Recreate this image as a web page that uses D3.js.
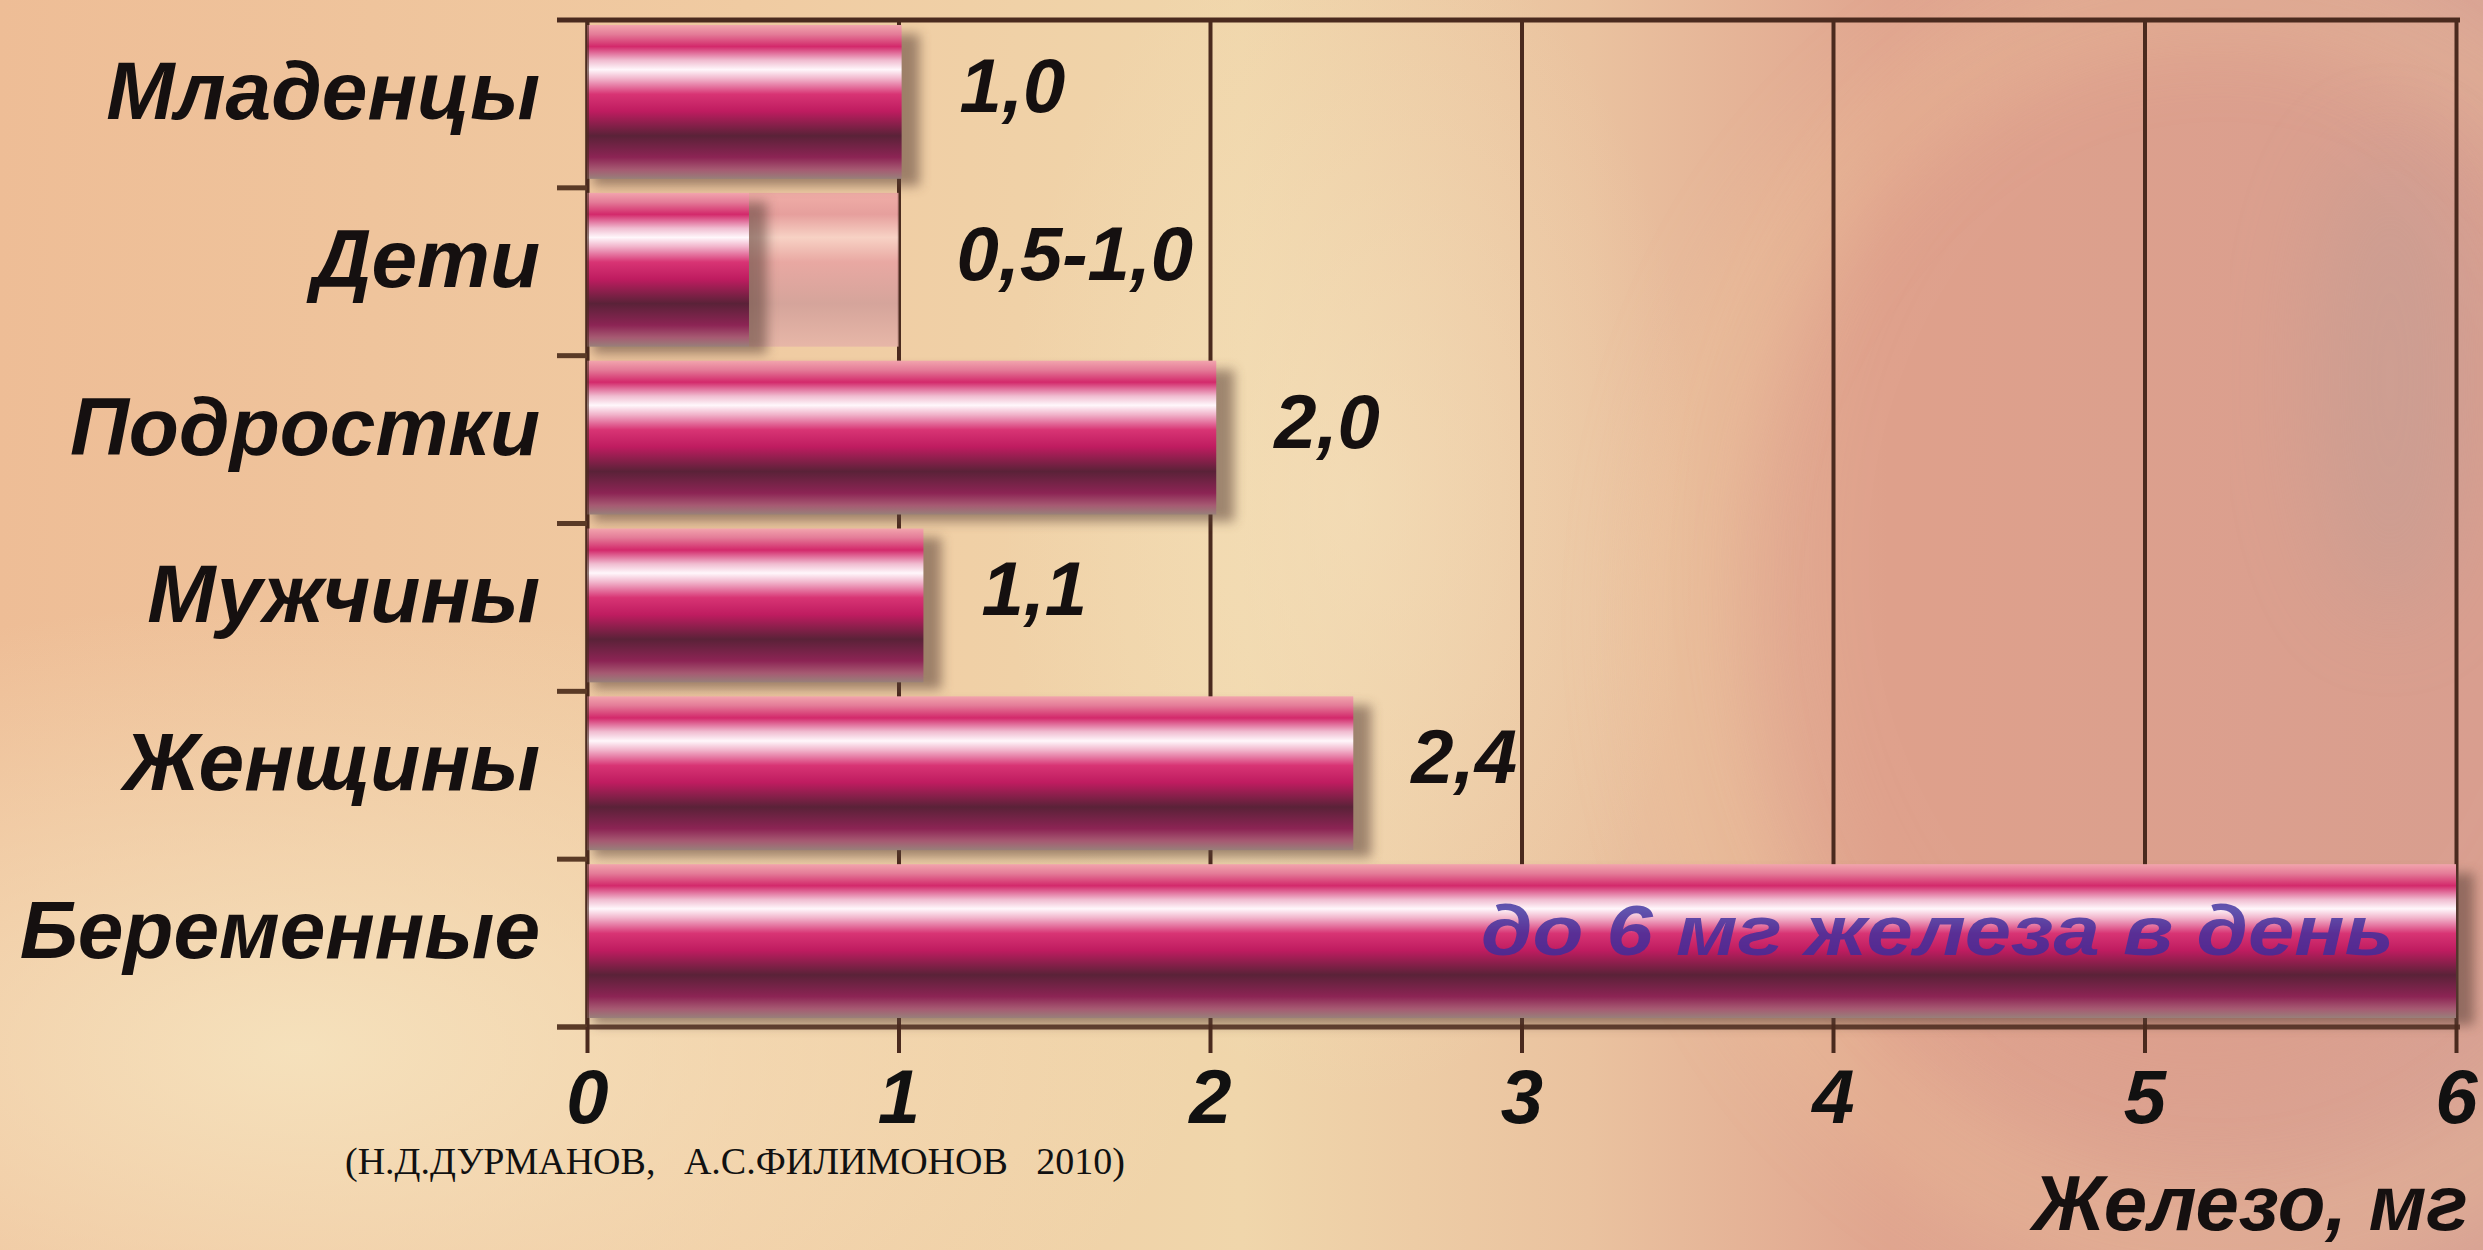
<!DOCTYPE html>
<html>
<head>
<meta charset="utf-8">
<script src="https://cdnjs.cloudflare.com/ajax/libs/d3/7.8.5/d3.min.js"></script>
<style>
body { margin: 0; overflow: hidden; }
text { font-family: "Liberation Sans", Arial, sans-serif; }
</style>
</head>
<body>
<svg id="graph"></svg>
<script>
var categories = ["Младенцы", "Дети", "Подростки", "Мужчины", "Женщины", "Беременные"];
var lowValues = [1.01, 0.52, 2.02, 1.08, 2.46, 6];
var highValues = [1.01, 1.0, 2.02, 1.08, 2.46, 6];
var valueLabels = ["1,0", "0,5-1,0", "2,0", "1,1", "2,4", ""];
var xTicks = [0, 1, 2, 3, 4, 5, 6];
var axisTitle = "Железо, мг";
var barNote = "до 6 мг железа в день";
var credit = "(Н.Д.ДУРМАНОВ,   А.С.ФИЛИМОНОВ   2010)";

drawGraph(2483, 1250);

function drawGraph(width, height){
    var svg = d3.select("#graph").attr("width", width).attr("height", height);
    var defs = svg.append("defs");

    // background: peach on the left, salmon on the right
    var bg = defs.append("linearGradient").attr("id", "bg").attr("x1", 0).attr("x2", 1).attr("y1", 0).attr("y2", 0);
    [[0, "#eebd96"], [0.3, "#f0cba2"], [0.5, "#f0d6ab"], [0.64, "#eac29f"], [0.76, "#e0a58f"], [1, "#d8a294"]]
        .forEach(function(s){ bg.append("stop").attr("offset", s[0]).attr("stop-color", s[1]); });
    var glow = defs.append("radialGradient").attr("id", "glow");
    glow.append("stop").attr("offset", 0).attr("stop-color", "#f6e4bf").attr("stop-opacity", 0.9);
    glow.append("stop").attr("offset", 1).attr("stop-color", "#f6e4bf").attr("stop-opacity", 0);

    var blur = defs.append("filter").attr("id", "blur").attr("x", "-20%").attr("y", "-20%").attr("width", "140%").attr("height", "140%");
    blur.append("feGaussianBlur").attr("stdDeviation", 6);
    var bigBlur = defs.append("filter").attr("id", "bigblur").attr("x", "-50%").attr("y", "-50%").attr("width", "200%").attr("height", "200%");
    bigBlur.append("feGaussianBlur").attr("stdDeviation", 45);

    // striped "tube" look of the bars
    var tube = defs.append("linearGradient").attr("id", "tube").attr("x1", 0).attr("x2", 0).attr("y1", 0).attr("y2", 1);
    [[0, "#f2a4ad"], [0.06, "#e47c98"], [0.14, "#d3296b"], [0.23, "#f0bcd0"], [0.29, "#fff7fb"], [0.35, "#f1b4cb"],
     [0.45, "#d83474"], [0.56, "#bf1c60"], [0.72, "#5a2238"], [0.86, "#8c2454"], [0.94, "#a65a72"], [1, "#98807a"]]
        .forEach(function(s){ tube.append("stop").attr("offset", s[0]).attr("stop-color", s[1]); });
    var ghost = defs.append("linearGradient").attr("id", "ghost").attr("x1", 0).attr("x2", 0).attr("y1", 0).attr("y2", 1);
    [[0, "#f0aaa8"], [0.14, "#e59a9c"], [0.29, "#f8d2c8"], [0.45, "#e8a4a2"], [0.72, "#d2a09a"], [1, "#e6b4a8"]]
        .forEach(function(s){ ghost.append("stop").attr("offset", s[0]).attr("stop-color", s[1]); });

    svg.append("rect").attr("width", width).attr("height", height).attr("fill", "url(#bg)");
    svg.append("ellipse").attr("cx", 300).attr("cy", 1050).attr("rx", 900).attr("ry", 450).attr("fill", "url(#glow)");
    svg.append("ellipse").attr("cx", 1350).attr("cy", 500).attr("rx", 350).attr("ry", 600).attr("fill", "url(#glow)").attr("opacity", 0.6);
    svg.append("ellipse").attr("cx", 2200).attr("cy", 560).attr("rx", 440).attr("ry", 560)
        .attr("fill", "#dc9684").attr("opacity", 0.28).attr("filter", "url(#bigblur)");
    svg.append("ellipse").attr("cx", 2220).attr("cy", 620).attr("rx", 540).attr("ry", 620)
        .attr("fill", "none").attr("stroke", "#f4cf9c").attr("stroke-width", 40).attr("opacity", 0.5).attr("filter", "url(#bigblur)");
    svg.append("ellipse").attr("cx", 2390).attr("cy", 380).attr("rx", 80).attr("ry", 240)
        .attr("fill", "#a89c9c").attr("opacity", 0.25).attr("filter", "url(#bigblur)");

    var x = d3.scaleLinear().domain([0, 6]).range([587, 2456]);
    var y = d3.scaleBand().domain(categories).range([20, 1027]);
    var bh = y.bandwidth();
    var lineColor = "#4a2a1e";

    // vertical gridlines
    svg.append("g").attr("transform", "translate(0,1027)")
        .call(d3.axisBottom(x).tickValues(xTicks).tickSize(-1007).tickFormat(""))
        .call(function(g){
            g.select(".domain").remove();
            g.selectAll("line").attr("stroke", lineColor).attr("stroke-width", 4);
        });

    var rows = categories.map(function(c, i){
        return {name: c, low: lowValues[i], high: highValues[i], label: valueLabels[i]};
    });

    // pale range part (Дети 0,5-1,0)
    svg.selectAll(".ghost").data(rows.filter(function(d){ return d.high > d.low; })).enter()
        .append("rect").attr("class", "ghost")
        .attr("x", function(d){ return x(d.low); })
        .attr("y", function(d){ return y(d.name) + 5; })
        .attr("width", function(d){ return x(d.high) - x(d.low); })
        .attr("height", bh - 14)
        .attr("fill", "url(#ghost)").attr("opacity", 0.9);

    svg.selectAll(".shadow").data(rows).enter()
        .append("rect").attr("class", "shadow")
        .attr("x", x(0) + 6)
        .attr("y", function(d){ return y(d.name) + 14; })
        .attr("width", function(d){ return x(d.low) - x(0) + 12; })
        .attr("height", bh - 16)
        .attr("fill", "#5a4038").attr("opacity", 0.55).attr("filter", "url(#blur)");

    svg.selectAll(".bar").data(rows).enter()
        .append("rect").attr("class", "bar")
        .attr("x", x(0))
        .attr("y", function(d){ return y(d.name) + 5; })
        .attr("width", function(d){ return x(d.low) - x(0); })
        .attr("height", bh - 14)
        .attr("fill", "url(#tube)");

    // frame lines and category ticks
    svg.append("line").attr("x1", 557).attr("x2", 2460).attr("y1", 20).attr("y2", 20)
        .attr("stroke", lineColor).attr("stroke-width", 5);
    svg.append("line").attr("x1", 557).attr("x2", 2460).attr("y1", 1027).attr("y2", 1027)
        .attr("stroke", lineColor).attr("stroke-width", 5).attr("opacity", 0.85);
    svg.append("line").attr("x1", x(0)).attr("x2", x(0)).attr("y1", 20).attr("y2", 1027)
        .attr("stroke", lineColor).attr("stroke-width", 4).attr("opacity", 0.6);
    var edges = categories.map(function(c){ return y(c); }).concat([y.range()[1]]);
    svg.selectAll(".ytick").data(edges.slice(1)).enter()
        .append("line").attr("class", "ytick")
        .attr("x1", 557).attr("x2", x(0)).attr("y1", function(d){ return d; }).attr("y2", function(d){ return d; })
        .attr("stroke", "#5a3a26").attr("stroke-width", 5);

    // bottom axis
    svg.append("g").attr("transform", "translate(0,1027)")
        .call(d3.axisBottom(x).tickValues(xTicks).tickSize(26).tickFormat(d3.format("d")))
        .call(function(g){
            g.select(".domain").remove();
            g.selectAll("line").attr("stroke", lineColor).attr("stroke-width", 4);
            g.selectAll("text").attr("y", 96).attr("dy", null)
                .attr("fill", "#111").attr("font-size", 76).attr("font-weight", "bold").attr("font-style", "italic")
                .style("font-family", "'Liberation Sans', Arial, sans-serif");
        });

    svg.selectAll(".cat").data(rows).enter()
        .append("text").attr("class", "cat")
        .attr("x", 540)
        .attr("y", function(d){ return y(d.name) + bh / 2 + 15; })
        .attr("text-anchor", "end")
        .attr("font-size", 82).attr("font-weight", "bold").attr("font-style", "italic").attr("fill", "#151010")
        .text(function(d){ return d.name; });

    svg.selectAll(".val").data(rows.filter(function(d){ return d.label; })).enter()
        .append("text").attr("class", "val")
        .attr("x", function(d){ return x(d.high) + 58; })
        .attr("y", function(d){ return y(d.name) + bh / 2 + 8; })
        .attr("font-size", 76).attr("font-weight", "bold").attr("font-style", "italic").attr("fill", "#151010")
        .text(function(d){ return d.label; });

    var last = rows[rows.length - 1];
    svg.append("text")
        .attr("x", 1481).attr("y", y(last.name) + bh / 2 + 12)
        .attr("textLength", 913).attr("lengthAdjust", "spacingAndGlyphs")
        .attr("font-size", 70).attr("font-style", "italic").attr("font-weight", "bold")
        .attr("fill", "#3a2e9e").attr("opacity", 0.8)
        .text(barNote);

    svg.append("text")
        .attr("x", 2468).attr("y", 1230).attr("text-anchor", "end")
        .attr("font-size", 78).attr("font-weight", "bold").attr("font-style", "italic").attr("fill", "#151010")
        .text(axisTitle);

    svg.append("text")
        .attr("x", 345).attr("y", 1174)
        .style("white-space", "pre")
        .style("font-family", "'Liberation Serif', 'Times New Roman', serif")
        .attr("font-size", 38).attr("fill", "#111")
        .text(credit);
}
</script>
</body>
</html>
